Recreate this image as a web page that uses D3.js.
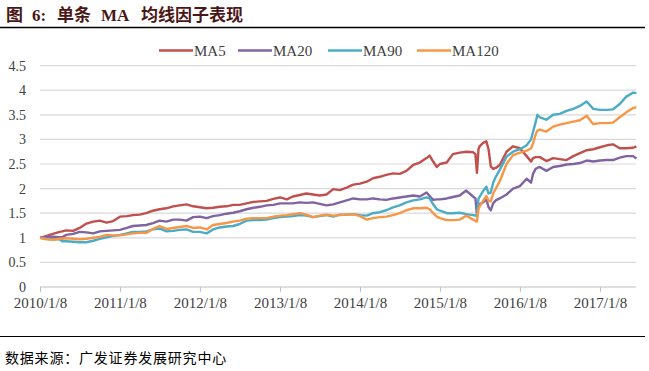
<!DOCTYPE html>
<html>
<head>
<meta charset="utf-8">
<script src="https://cdn.jsdelivr.net/npm/d3@7"></script>
<style>
  body { margin: 0; background: #fff; }
  svg { display: block; }
</style>
</head>
<body>
<div id="chart"></div>
<script>
(function(d3) {
    'use strict';

    // sample dates (monthly, denser around mid-2015)
    var dates = [
        '2010-01-08', '2010-02-08', '2010-03-08', '2010-04-08', '2010-04-19', '2010-05-08', '2010-06-08',
        '2010-07-08', '2010-08-08', '2010-09-08', '2010-10-08', '2010-11-08', '2010-12-08',
        '2011-01-08', '2011-02-08', '2011-03-08', '2011-04-08', '2011-05-08', '2011-06-08',
        '2011-07-08', '2011-08-08', '2011-09-08', '2011-10-08', '2011-11-08', '2011-12-08',
        '2012-01-08', '2012-02-08', '2012-03-08', '2012-04-08', '2012-05-08', '2012-06-08',
        '2012-07-08', '2012-08-08', '2012-09-08', '2012-10-08', '2012-11-08', '2012-12-08',
        '2013-01-08', '2013-02-08', '2013-03-08', '2013-04-08', '2013-05-08', '2013-06-08',
        '2013-07-08', '2013-08-08', '2013-09-08', '2013-10-08', '2013-11-08', '2013-12-08',
        '2014-01-08', '2014-02-08', '2014-03-08', '2014-04-08', '2014-05-08', '2014-06-08',
        '2014-07-08', '2014-08-08', '2014-09-08', '2014-10-08', '2014-11-08', '2014-11-22',
        '2014-12-08', '2014-12-25',
        '2015-01-08', '2015-02-08', '2015-03-08', '2015-04-08', '2015-05-08', '2015-06-08',
        '2015-06-19', '2015-06-26', '2015-07-03', '2015-07-08', '2015-07-24', '2015-08-08',
        '2015-08-18', '2015-08-28', '2015-09-08', '2015-09-20', '2015-10-08', '2015-11-08',
        '2015-12-08',
        '2016-01-08', '2016-02-08', '2016-02-28', '2016-03-08', '2016-03-20', '2016-03-28',
        '2016-04-08', '2016-05-08', '2016-06-08', '2016-07-08', '2016-08-08', '2016-09-08',
        '2016-10-08', '2016-11-08', '2016-12-08',
        '2017-01-08', '2017-02-08', '2017-03-08', '2017-04-08', '2017-05-08', '2017-06-08',
        '2017-06-23'
    ];

    var ma5 = [
        1.00, 1.04, 1.08, 1.12, 1.13, 1.15, 1.14, 1.20, 1.29, 1.33, 1.35, 1.31, 1.34,
        1.43, 1.44, 1.46, 1.47, 1.50, 1.55, 1.58, 1.60, 1.64, 1.66, 1.68, 1.64,
        1.62, 1.60, 1.61, 1.63, 1.64, 1.67, 1.67, 1.70, 1.73, 1.74, 1.75, 1.79,
        1.82, 1.78, 1.84, 1.87, 1.90, 1.88, 1.86, 1.88, 1.99, 1.97, 2.02, 2.08,
        2.10, 2.14, 2.21, 2.24, 2.28, 2.31, 2.30, 2.36, 2.48, 2.53, 2.62, 2.67,
        2.55, 2.44,
        2.50, 2.53, 2.70, 2.73, 2.75, 2.74, 2.70, 2.32, 2.80, 2.86, 2.93, 2.96,
        2.80, 2.45, 2.40, 2.42, 2.48, 2.75, 2.86,
        2.82, 2.66, 2.55, 2.62, 2.64, 2.64, 2.64, 2.56, 2.62, 2.60, 2.58, 2.66,
        2.72, 2.78, 2.80,
        2.84, 2.88, 2.90, 2.82, 2.82, 2.83, 2.86
    ];

    var ma20 = [
        1.00, 1.01, 1.02, 1.01, 1.01, 1.06, 1.08, 1.12, 1.11, 1.09, 1.13, 1.14, 1.15,
        1.16, 1.20, 1.24, 1.25, 1.26, 1.30, 1.35, 1.33, 1.37, 1.37, 1.35, 1.42,
        1.43, 1.40, 1.44, 1.46, 1.49, 1.51, 1.54, 1.58, 1.61, 1.63, 1.66, 1.67,
        1.70, 1.70, 1.70, 1.72, 1.71, 1.72, 1.69, 1.66, 1.68, 1.72, 1.76, 1.80,
        1.78, 1.78, 1.80, 1.78, 1.77, 1.80, 1.82, 1.84, 1.86, 1.84, 1.92, 1.85,
        1.77, 1.78,
        1.78, 1.80, 1.83, 1.86, 1.96, 1.84, 1.80, 1.46, 1.65, 1.68, 1.72, 1.78,
        1.62, 1.56, 1.70, 1.76, 1.80, 1.88, 2.00,
        2.05, 2.20, 2.12, 2.30, 2.40, 2.42, 2.44, 2.36, 2.44, 2.46, 2.49, 2.50,
        2.52, 2.57, 2.55,
        2.57, 2.58, 2.58, 2.63, 2.66, 2.66, 2.61
    ];

    var ma90 = [
        1.00, 0.98, 0.97, 0.97, 0.93, 0.93, 0.92, 0.91, 0.91, 0.94, 0.98, 1.01, 1.04,
        1.06, 1.09, 1.12, 1.12, 1.13, 1.17, 1.19, 1.13, 1.14, 1.16, 1.17, 1.12,
        1.12, 1.09, 1.17, 1.21, 1.23, 1.24, 1.28, 1.35, 1.36, 1.36, 1.37, 1.40,
        1.42, 1.43, 1.44, 1.46, 1.45, 1.42, 1.44, 1.46, 1.43, 1.47, 1.47, 1.48,
        1.46, 1.45, 1.50, 1.52, 1.56, 1.62, 1.66, 1.72, 1.76, 1.78, 1.82, 1.80,
        1.68, 1.58,
        1.55, 1.50, 1.50, 1.51, 1.48, 1.46, 1.45, 1.44, 1.80, 1.83, 1.95, 2.04,
        1.90, 1.92, 2.12, 2.24, 2.38, 2.65, 2.75,
        2.80, 2.88, 3.00, 3.15, 3.35, 3.50, 3.45, 3.40, 3.50, 3.52, 3.58, 3.62,
        3.68, 3.77, 3.62,
        3.60, 3.60, 3.61, 3.72, 3.87, 3.95, 3.94
    ];

    var ma120 = [
        1.00, 0.97, 0.96, 0.98, 0.98, 0.99, 0.98, 0.97, 0.98, 1.00, 1.02, 1.06, 1.05,
        1.05, 1.07, 1.09, 1.10, 1.10, 1.18, 1.24, 1.18, 1.20, 1.22, 1.24, 1.20,
        1.21, 1.17, 1.26, 1.28, 1.30, 1.33, 1.35, 1.39, 1.40, 1.40, 1.40, 1.43,
        1.45, 1.46, 1.48, 1.50, 1.47, 1.42, 1.45, 1.47, 1.45, 1.46, 1.47, 1.48,
        1.44, 1.37, 1.40, 1.42, 1.43, 1.46, 1.50, 1.56, 1.60, 1.60, 1.61, 1.58,
        1.50, 1.43,
        1.40, 1.36, 1.36, 1.37, 1.45, 1.37, 1.34, 1.33, 1.58, 1.64, 1.75, 1.85,
        1.75, 1.74, 1.90, 2.00, 2.15, 2.50, 2.68,
        2.73, 2.77, 2.82, 2.92, 3.10, 3.18, 3.20, 3.16, 3.26, 3.30, 3.33, 3.36,
        3.39, 3.48, 3.31,
        3.33, 3.33, 3.34, 3.45, 3.55, 3.64, 3.65
    ];

    var seriesNames = ['MA5', 'MA20', 'MA90', 'MA120'];
    var seriesValues = [ma5, ma20, ma90, ma120];
    var colors = ['#c0504d', '#8064a2', '#4bacc6', '#f79646'];

    var yTicks = [0, 0.5, 1, 1.5, 2, 2.5, 3, 3.5, 4, 4.5];
    var xTickLabels = ['2010/1/8', '2011/1/8', '2012/1/8', '2013/1/8', '2014/1/8', '2015/1/8', '2016/1/8', '2017/1/8'];

    var width = 649,
        height = 371;

    var parse = d3.timeParse('%Y-%m-%d');
    var parseTick = d3.timeParse('%Y/%m/%d');
    var times = dates.map(parse);

    var x = d3.scaleTime()
        .domain(d3.extent(times))
        .range([40, 636.4]);

    var y = d3.scaleLinear()
        .domain([0, 4.5])
        .range([287, 65.6]);

    var svg = d3.select('#chart').append('svg')
        .attr('width', width)
        .attr('height', height);

    var serif = '"Liberation Serif", "Times New Roman", "Noto Sans CJK SC", serif';

    // title
    var title = svg.append('text')
        .attr('y', 21)
        .attr('fill', '#4a1616')
        .style('font-family', serif)
        .style('font-weight', 'bold')
        .style('font-size', '17px');
    [[6, '图'], [32, '6:'], [57, '单条'], [101, 'MA'], [141, '均线因子表现']].forEach(function(p) {
        title.append('tspan').attr('x', p[0]).text(p[1]);
    });

    svg.append('line')
        .attr('x1', 0).attr('x2', 645)
        .attr('y1', 27.5).attr('y2', 27.5)
        .attr('stroke', '#000')
        .attr('stroke-width', 1.6);

    // gridlines
    svg.append('g')
        .selectAll('line')
        .data(yTicks.filter(function(d) { return d > 0; }))
        .enter()
        .append('line')
        .attr('x1', 40).attr('x2', 636)
        .attr('y1', function(d) { return y(d); })
        .attr('y2', function(d) { return y(d); })
        .attr('stroke', '#d9d9d9')
        .attr('stroke-width', 1.2);

    // y axis labels
    var yAxis = d3.axisLeft(y)
        .tickValues(yTicks)
        .tickSize(0)
        .tickPadding(14)
        .tickFormat(d3.format('~g'));

    var yg = svg.append('g')
        .attr('transform', 'translate(40,0)')
        .call(yAxis);
    yg.select('.domain').remove();
    yg.selectAll('text')
        .style('font-family', serif)
        .style('font-size', '14px')
        .attr('fill', '#404040');

    // x axis
    var xAxis = d3.axisBottom(x)
        .tickValues(xTickLabels.map(parseTick))
        .tickSize(5)
        .tickSizeOuter(0)
        .tickPadding(5)
        .tickFormat(d3.timeFormat('%Y/%-m/%-d'));

    var xg = svg.append('g')
        .attr('transform', 'translate(0,' + y(0) + ')')
        .call(xAxis);
    xg.select('.domain')
        .attr('d', 'M40,0H636')
        .attr('stroke', '#bfbfbf');
    xg.selectAll('.tick line').attr('stroke', '#bfbfbf');
    xg.selectAll('text')
        .style('font-family', serif)
        .style('font-size', '15px')
        .attr('fill', '#404040');

    // lines
    var line = d3.line()
        .x(function(d) { return x(d.t); })
        .y(function(d) { return y(d.v); });

    svg.append('g')
        .selectAll('path')
        .data(seriesValues.map(function(vals, i) {
            return {
                name: seriesNames[i],
                pts: vals.map(function(v, j) { return { t: times[j], v: v }; })
            };
        }))
        .enter()
        .append('path')
        .attr('fill', 'none')
        .attr('stroke', function(d, i) { return colors[i]; })
        .attr('stroke-width', 2.4)
        .attr('stroke-linejoin', 'round')
        .attr('d', function(d) { return line(d.pts); });

    // legend
    var legendX = [159, 238, 328, 417];
    var legend = svg.selectAll('.legend')
        .data(seriesNames)
        .enter()
        .append('g')
        .attr('class', 'legend')
        .attr('transform', function(d, i) { return 'translate(' + legendX[i] + ',50.5)'; });

    legend.append('line')
        .attr('x1', 0).attr('x2', 34)
        .attr('stroke', function(d, i) { return colors[i]; })
        .attr('stroke-width', 2.4);

    legend.append('text')
        .attr('x', 35)
        .attr('y', 5)
        .style('font-family', serif)
        .style('font-size', '15px')
        .attr('fill', '#404040')
        .text(function(d) { return d; });

    // footer
    svg.append('line')
        .attr('x1', 0).attr('x2', 645)
        .attr('y1', 336.5).attr('y2', 336.5)
        .attr('stroke', '#000')
        .attr('stroke-width', 1);

    svg.append('text')
        .attr('x', 5)
        .attr('y', 363)
        .style('font-family', '"Noto Sans CJK SC", sans-serif')
        .style('font-size', '14px')
        .style('letter-spacing', '0.8px')
        .attr('fill', '#000')
        .text('数据来源：广发证券发展研究中心');

})(window.d3);
</script>
</body>
</html>
